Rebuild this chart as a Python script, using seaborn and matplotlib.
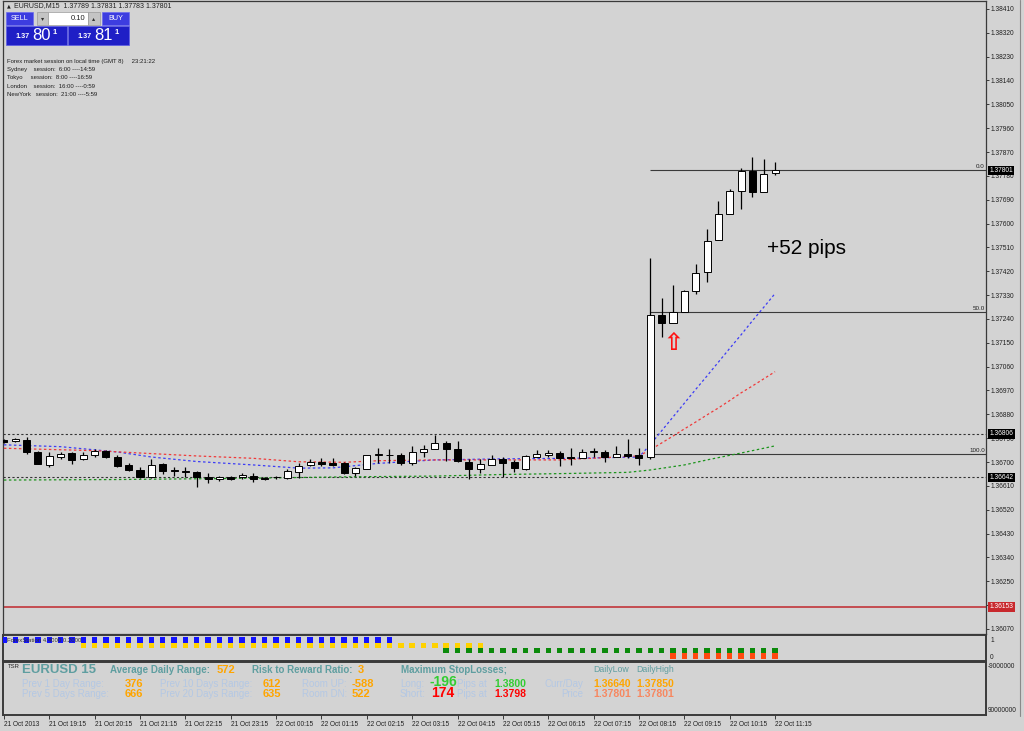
import numpy as np
import pandas as pd
import matplotlib
matplotlib.use("Agg")
import matplotlib.pyplot as plt
from matplotlib.patches import Rectangle
from matplotlib.lines import Line2D
import seaborn as sns

# -----------------------------
# 1. Data (EURUSD M15)
# -----------------------------
opens = [1.36782, 1.36778, 1.36783, 1.36738, 1.36690, 1.36720, 1.36733, 1.36713, 1.36728, 1.36741,
         1.36720, 1.36688, 1.36670, 1.36643, 1.36693, 1.36670, 1.36665, 1.36663, 1.36643, 1.36635,
         1.36643, 1.36643, 1.36648, 1.36640, 1.36643, 1.36640, 1.36663, 1.36688, 1.36700, 1.36698,
         1.36696, 1.36660, 1.36675, 1.36726, 1.36728, 1.36728, 1.36698, 1.36736, 1.36751, 1.36773,
         1.36751, 1.36700, 1.36673, 1.36690, 1.36713, 1.36700, 1.36673, 1.36720, 1.36728, 1.36733,
         1.36719, 1.36717, 1.36739, 1.36739, 1.36719, 1.36732, 1.36727, 1.36718, 1.37254, 1.37224,
         1.37267, 1.37347, 1.37419, 1.37538, 1.37635, 1.37723, 1.37800, 1.37719, 1.37789]
highs = [1.36787, 1.36791, 1.36794, 1.36743, 1.36736, 1.36738, 1.36736, 1.36738, 1.36748, 1.36746,
         1.36728, 1.36696, 1.36680, 1.36711, 1.36698, 1.36683, 1.36680, 1.36665, 1.36658, 1.36648,
         1.36648, 1.36658, 1.36660, 1.36645, 1.36648, 1.36673, 1.36696, 1.36711, 1.36716, 1.36716,
         1.36700, 1.36683, 1.36727, 1.36753, 1.36748, 1.36735, 1.36761, 1.36763, 1.36801, 1.36781,
         1.36778, 1.36713, 1.36713, 1.36726, 1.36719, 1.36708, 1.36728, 1.36746, 1.36746, 1.36743,
         1.36754, 1.36750, 1.36752, 1.36747, 1.36760, 1.36787, 1.36754, 1.37469, 1.37318, 1.37368,
         1.37350, 1.37448, 1.37579, 1.37687, 1.37730, 1.37809, 1.37850, 1.37845, 1.37831]
lows = [1.36772, 1.36776, 1.36732, 1.36691, 1.36683, 1.36713, 1.36693, 1.36708, 1.36720, 1.36716,
        1.36683, 1.36668, 1.36640, 1.36640, 1.36655, 1.36648, 1.36643, 1.36607, 1.36620, 1.36630,
        1.36633, 1.36637, 1.36625, 1.36633, 1.36637, 1.36637, 1.36640, 1.36685, 1.36685, 1.36685,
        1.36655, 1.36648, 1.36673, 1.36698, 1.36696, 1.36690, 1.36688, 1.36720, 1.36748, 1.36705,
        1.36700, 1.36637, 1.36660, 1.36688, 1.36645, 1.36663, 1.36670, 1.36718, 1.36720, 1.36685,
        1.36689, 1.36716, 1.36719, 1.36702, 1.36718, 1.36717, 1.36689, 1.36711, 1.37173, 1.37224,
        1.37267, 1.37334, 1.37381, 1.37538, 1.37635, 1.37654, 1.37699, 1.37719, 1.37783]
closes = [1.36775, 1.36786, 1.36736, 1.36693, 1.36723, 1.36731, 1.36708, 1.36728, 1.36741, 1.36720,
          1.36685, 1.36670, 1.36643, 1.36688, 1.36668, 1.36665, 1.36662, 1.36643, 1.36637, 1.36643,
          1.36637, 1.36650, 1.36637, 1.36635, 1.36642, 1.36665, 1.36685, 1.36700, 1.36693, 1.36690,
          1.36660, 1.36678, 1.36726, 1.36731, 1.36726, 1.36696, 1.36736, 1.36751, 1.36773, 1.36751,
          1.36703, 1.36673, 1.36693, 1.36711, 1.36696, 1.36678, 1.36723, 1.36731, 1.36733, 1.36716,
          1.36717, 1.36739, 1.36742, 1.36719, 1.36732, 1.36724, 1.36714, 1.37254, 1.37224, 1.37267,
          1.37346, 1.37413, 1.37536, 1.37636, 1.37724, 1.37799, 1.37720, 1.37787, 1.37801]

# moving averages (bar index, value)
blue_idx = [0, 5, 10, 13, 17, 22, 26, 29, 33, 38, 44, 50, 56, 57, 58, 59, 60, 61, 62, 63, 64, 65, 66, 67, 68]
blue_ma = [1.36765, 1.36758, 1.36738, 1.36719, 1.36702, 1.36689, 1.36677, 1.36678, 1.36695, 1.36708,
           1.36712, 1.36714, 1.36719, 1.36766, 1.36818, 1.36870, 1.36922, 1.36974, 1.37025, 1.37077,
           1.37129, 1.37180, 1.37233, 1.37284, 1.37336]
red_idx = [0, 8, 17, 22, 26, 30, 33, 38, 44, 49, 56, 57, 58, 59, 60, 61, 62, 63, 64, 65, 66, 67, 68]
red_ma = [1.36752, 1.36743, 1.36723, 1.36714, 1.36701, 1.36699, 1.36705, 1.36708, 1.36708, 1.36708,
          1.36723, 1.36746, 1.36772, 1.36798, 1.36825, 1.36851, 1.36878, 1.36904, 1.36932, 1.36961,
          1.36987, 1.37014, 1.37041]
green_idx = [0, 10, 20, 30, 38, 44, 50, 55, 57, 60, 62, 65, 68]
green_ma = [1.36632, 1.36634, 1.36638, 1.36644, 1.36647, 1.36653, 1.36657, 1.36661, 1.36670, 1.36689,
            1.36708, 1.36734, 1.36761]

# levels
level_hi = 1.36806
level_lo = 1.36642
stop_line = 1.36153
fib_top = 1.37801
fib_bottom = 1.36729
fib_levels = [0.0, 50.0, 100.0]
fib_start = 57
last_price = 1.37801

# signal indicator rows: (colour, row value, first bar, last bar)
sig_colors = ["#1414ff", "#ffd200", "#0b8a0b", "#ff4a10"]
sig_rows = [1.0, 0.66, 0.33, 0.0]
sig_first = [0, 7, 39, 59]
sig_last = [34, 42, 68, 68]

time_idx = [0, 4, 8, 12, 16, 20, 24, 28, 32, 36, 40, 44, 48, 52, 56, 60, 64, 68]
time_labels = ["21 Oct 2013", "21 Oct 19:15", "21 Oct 20:15", "21 Oct 21:15", "21 Oct 22:15",
               "21 Oct 23:15", "22 Oct 00:15", "22 Oct 01:15", "22 Oct 02:15", "22 Oct 03:15",
               "22 Oct 04:15", "22 Oct 05:15", "22 Oct 06:15", "22 Oct 07:15", "22 Oct 08:15",
               "22 Oct 09:15", "22 Oct 10:15", "22 Oct 11:15"]

price_ticks = np.round(np.arange(1.36070, 1.38411, 0.0009), 5)

# -----------------------------
# 2. Figure layout
# -----------------------------
W, H = 1024, 731
BG = "#d3d3d3"
sns.set_theme(style="white")
plt.rcParams["font.family"] = ["Liberation Sans", "DejaVu Sans"]

fig = plt.figure(figsize=(W / 100, H / 100), dpi=100, facecolor=BG)


def add_axes(x0, y0, x1, y1):
    return fig.add_axes([x0 / W, 1 - y1 / H, (x1 - x0) / W, (y1 - y0) / H])


def ftext(x, y, s, **kw):
    kw.setdefault("va", "center")
    return fig.text(x / W, 1 - y / H, s, **kw)


def frect(x0, y0, x1, y1, **kw):
    fig.add_artist(Rectangle((x0 / W, 1 - y1 / H), (x1 - x0) / W, (y1 - y0) / H,
                             transform=fig.transFigure, **kw))


XL = (-0.08, 86.6)
ax = add_axes(3, 1, 986, 634)
ind = add_axes(3, 635, 986, 661)
bot = add_axes(3, 662, 986, 715)
for a in (ax, ind, bot):
    a.set_facecolor(BG)
    a.set_xlim(*XL)
    for s in a.spines.values():
        s.set_color("#3a3a3a")
        s.set_linewidth(0.9)
for a in (ind, bot):
    for s in a.spines.values():
        s.set_linewidth(1.4)

# -----------------------------
# 3. Main price chart
# -----------------------------
idx = np.arange(len(opens))
o, h, l, c = map(np.array, (opens, highs, lows, closes))
ax.vlines(idx, l, h, color="black", lw=0.9, zorder=4)
body_lo = np.minimum(o, c)
body_h = np.maximum(np.abs(c - o), 0.000008)
ax.bar(idx, body_h, bottom=body_lo, width=0.62,
       color=np.where(c >= o, "white", "black"), edgecolor="black", linewidth=0.7, zorder=5)

dots = (0, (2, 2))
sns.lineplot(x=blue_idx, y=blue_ma, ax=ax, color="#3c3cf5", lw=0.9, linestyle=dots, zorder=3)
sns.lineplot(x=red_idx, y=red_ma, ax=ax, color="#f03a3a", lw=0.9, linestyle=dots, zorder=3)
sns.lineplot(x=green_idx, y=green_ma, ax=ax, color="#1c941c", lw=0.9, linestyle=dots, zorder=3)

ax.axhline(level_hi, color="#333333", lw=0.8, ls=dots, zorder=2)
ax.axhline(level_lo, color="#333333", lw=0.8, ls=dots, zorder=2)
ax.axhline(stop_line, color="#c0282d", lw=1.1, zorder=2)

for lv in fib_levels:
    p = fib_top - (fib_top - fib_bottom) * lv / 100
    ax.hlines(p, fib_start, XL[1], color="#3a3a3a", lw=0.8, zorder=2)
    ax.text(XL[1] - 0.1, p + 0.00004, f"{lv:.1f}", ha="right", va="bottom",
            fontsize=4.5, color="#202020")

ax.text(67.27, 1.37485, "+52 pips", ha="left", va="baseline", fontsize=15, color="black")
ax.text(59.0, 1.37151, "\u21e7", ha="center", va="center", fontsize=17,
        color="#ff1010", family=["DejaVu Sans"], fontweight="bold")

ax.set_ylim(1.36051, 1.38440)
ax.yaxis.tick_right()
ax.set_yticks(price_ticks)
ax.set_yticklabels([f"{t:.5f}" for t in price_ticks])
ax.tick_params(axis="y", direction="out", length=2, width=0.6, labelsize=4.8, pad=1.5,
               colors="#202020", right=True, left=False)
ax.set_xticks([])
ax.set_xlabel("")
ax.set_ylabel("")


def price_box(p, fc):
    ax.annotate(f"{p:.5f}", xy=(1, p), xycoords=("axes fraction", "data"),
                xytext=(2.6, 0), textcoords="offset points", ha="left", va="center",
                fontsize=4.8, color="white", annotation_clip=False, zorder=10,
                bbox=dict(boxstyle="square,pad=0.18", fc=fc, ec="none"))


price_box(last_price, "black")
price_box(level_hi, "black")
price_box(level_lo, "black")
price_box(stop_line, "#c8282d")

# -----------------------------
# 4. Signal indicator panel
# -----------------------------
sig = pd.DataFrame(
    [(b, row, col) for col, row, a, z in zip(sig_colors, sig_rows, sig_first, sig_last)
     for b in range(a, z + 1)],
    columns=["bar", "row", "col"])
sns.scatterplot(data=sig, x="bar", y="row", hue="col", palette={k: k for k in sig_colors},
                marker="s", s=15, linewidth=0, legend=False, ax=ind, zorder=3)
ind.set_ylim(-0.31, 1.31)
ind.yaxis.tick_right()
ind.set_yticks([0, 1])
ind.set_yticklabels(["0", "1"])
ind.tick_params(axis="y", length=0, labelsize=4.8, pad=3, colors="#202020")
ind.set_xticks([])
ind.set_xlabel("")
ind.set_ylabel("")
ind.text(0.3, 0.98, "ForexStation 4.4000 0.2000", fontsize=4.3, color="#303030",
         va="center", ha="left", zorder=4)

# -----------------------------
# 5. Info panel + time axis
# -----------------------------
bot.set_ylim(0, 1)
bot.set_yticks([])
bot.set_xticks(time_idx)
bot.set_xticklabels(time_labels)
for t in bot.get_xticklabels():
    t.set_ha("left")
bot.tick_params(axis="x", direction="out", length=3, width=0.6, labelsize=4.7, pad=1,
                colors="#202020", bottom=True)
bot.set_xlabel("")

TEAL = "#5f9ea0"
ORNG = "#ffa500"
LITE = "#b4c8e4"
ftext(8, 667, "TSR", fontsize=4.2, color="#202020")
ftext(22, 670, "EURUSD 15", fontsize=9.5, fontweight="bold", color=TEAL)
ftext(110, 670, "Average Daily Range:", fontsize=7, fontweight="bold", color=TEAL)
ftext(217, 670, "572", fontsize=8, fontweight="bold", color=ORNG)
ftext(252, 670, "Risk to Reward Ratio:", fontsize=7, fontweight="bold", color=TEAL)
ftext(358, 670, "3", fontsize=8, fontweight="bold", color=ORNG)
ftext(401, 670, "Maximum StopLosses;", fontsize=7, fontweight="bold", color=TEAL)
ftext(593, 669, "DailyLow", fontsize=6.3, color=TEAL)
ftext(636, 669, "DailyHigh", fontsize=6.3, color=TEAL)

for y, a, va_, b, vb, r, vr in [(684, "Prev 1 Day Range:", "376", "Prev 10 Days Range:", "612", "Room UP:", "-588"),
                                 (694, "Prev 5 Days Range:", "666", "Prev 20 Days Range:", "635", "Room DN:", "522")]:
    ftext(22, y, a, fontsize=7, color=LITE)
    ftext(125, y, va_, fontsize=8, fontweight="bold", color=ORNG)
    ftext(160, y, b, fontsize=7, color=LITE)
    ftext(263, y, vb, fontsize=8, fontweight="bold", color=ORNG)
    ftext(302, y, r, fontsize=7, color=LITE)
    ftext(352, y, vr, fontsize=8, fontweight="bold", color=ORNG)
    ftext(457, y, "Pips at", fontsize=7, color=LITE)

ftext(400, 684, "Long:", fontsize=7, color=LITE)
ftext(400, 694, "Short:", fontsize=7, color=LITE)
ftext(429, 682.5, "-196", fontsize=10, fontweight="bold", color="#32cd32")
ftext(431, 693, "174", fontsize=10, fontweight="bold", color="#ff0000")
ftext(494, 684, "1.3800", fontsize=7.5, fontweight="bold", color="#32cd32")
ftext(494, 694, "1.3798", fontsize=7.5, fontweight="bold", color="#ff0000")
ftext(583, 684, "Curr/Day", fontsize=7, color=LITE, ha="right")
ftext(583, 694, "Price", fontsize=7, color=LITE, ha="right")
ftext(593, 684, "1.36640", fontsize=7.5, fontweight="bold", color=ORNG)
ftext(636, 684, "1.37850", fontsize=7.5, fontweight="bold", color=ORNG)
ftext(593, 694, "1.37801", fontsize=7.5, fontweight="bold", color="#f7875f")
ftext(636, 694, "1.37801", fontsize=7.5, fontweight="bold", color="#f7875f")
ftext(988, 667, "-9000000", fontsize=4.7, color="#202020")
ftext(988, 711, "90000000", fontsize=4.7, color="#202020")

# -----------------------------
# 6. Header, trade panel, session text
# -----------------------------
ftext(7, 6, "\u25b2", fontsize=3.5, color="#202020", family=["DejaVu Sans"])
ftext(14, 6, "EURUSD,M15  1.37789 1.37831 1.37783 1.37801", fontsize=5, color="#202020")

frect(6, 12, 33, 25, fc="#3d3de0", ec="#6a6af0", lw=0.5)
frect(102, 12, 129, 25, fc="#3d3de0", ec="#6a6af0", lw=0.5)
frect(37, 12, 48, 25, fc="#c4c4c4", ec="#9a9a9a", lw=0.5)
frect(48, 12, 88, 25, fc="white", ec="#9a9a9a", lw=0.5)
frect(88, 12, 100, 25, fc="#c4c4c4", ec="#9a9a9a", lw=0.5)
frect(6, 26, 67, 45, fc="#1f1fc6", ec="#5a5ae8", lw=0.5)
frect(68, 26, 129, 45, fc="#1f1fc6", ec="#5a5ae8", lw=0.5)
ftext(19.5, 18.5, "SELL", fontsize=5.2, color="white", ha="center")
ftext(115.5, 18.5, "BUY", fontsize=5.2, color="white", ha="center")
ftext(85, 18.5, "0.10", fontsize=5.5, color="#202020", ha="right")
ftext(42.5, 18.5, "\u25be", fontsize=4.5, color="#303030", ha="center", family=["DejaVu Sans"])
ftext(94, 18.5, "\u25b4", fontsize=4.5, color="#303030", ha="center", family=["DejaVu Sans"])
for x0, big in [(15, "80"), (77, "81")]:
    ftext(x0, 37, "1.37", fontsize=5.2, color="white", fontweight="bold")
    ftext(x0 + 17, 36, big, fontsize=12, color="white")
    ftext(x0 + 38, 32, "1", fontsize=5.5, color="white", fontweight="bold")

session_lines = ["Forex market session on local time (GMT 8)     23:21:22",
                 "Sydney    session:  6:00 ----14:59",
                 "Tokyo     session:  8:00 ----16:59",
                 "London    session:  16:00 ----0:59",
                 "NewYork   session:  21:00 ----5:59"]
for y, s in zip([61, 70, 78, 86, 94], session_lines):
    ftext(7, y, s, fontsize=4.3, color="#1e1e1e")

fig.add_artist(Line2D([1020 / W, 1020 / W], [1 - 716 / H, 1], transform=fig.transFigure,
                      color="#8a8a8a", lw=0.8))

plt.savefig("out.png", dpi=100, facecolor=BG)
plt.close()
